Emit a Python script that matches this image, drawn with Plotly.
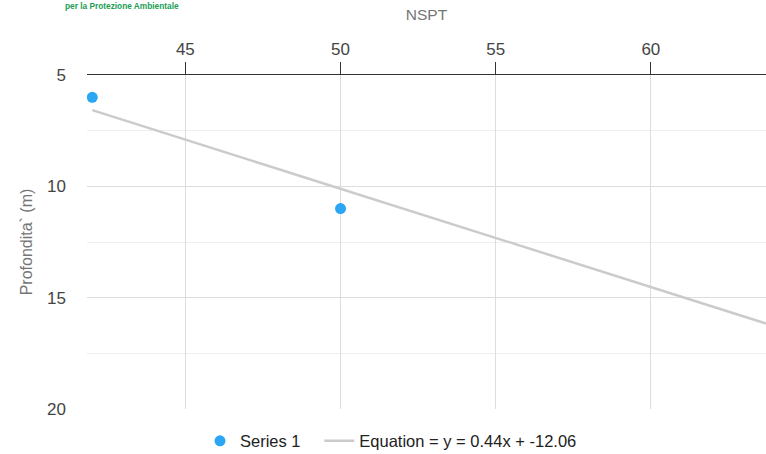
import plotly.graph_objects as go

# data
nspt = [42, 50]
depth = [6.0, 11.0]

# displayed trend line (endpoints)
trend_x = [42, 63.71]
trend_y = [6.58, 16.16]
trend_label = "Equation = y = 0.44x + -12.06"

x_ticks = [45, 50, 55, 60]
y_ticks = [5, 10, 15, 20]
y_minor = [7.5, 12.5, 17.5]

FONT = "Arial, Liberation Sans, sans-serif"
NBSP = "\u00a0"

fig = go.Figure()

fig.add_trace(go.Scatter(
    x=nspt, y=depth, mode="markers", name="Series 1" + NBSP * 3,
    marker={"color": "#2ba6f4", "size": 11},
))
fig.add_trace(go.Scatter(
    x=trend_x, y=trend_y, mode="lines", name=trend_label,
    line={"color": "#cbcbcb", "width": 2.5},
))

fig.update_xaxes(
    side="top",
    automargin=False,
    range=[41.83, 63.71],
    tickvals=x_ticks,
    ticks="outside", ticklen=12, tickcolor="#333333", tickwidth=1,
    showline=True, linecolor="#333333", linewidth=1,
    showgrid=True, gridcolor="#dddddd", gridwidth=1,
    zeroline=False,
    tickfont={"size": 17, "color": "#444444", "family": FONT},
    title={"text": "NSPT", "standoff": 15,
           "font": {"size": 15.5, "color": "#757575", "family": FONT}},
)
fig.update_yaxes(
    automargin=False,
    range=[20, 5],
    tickvals=y_ticks,
    showline=False,
    showgrid=True, gridcolor="#dddddd", gridwidth=1,
    minor={"tickvals": y_minor, "showgrid": True, "gridcolor": "#efefef", "gridwidth": 1},
    zeroline=False,
    ticklabelstandoff=20,
    tickfont={"size": 17, "color": "#444444", "family": FONT},
    title={"text": "Profondita` (m)", "standoff": 10,
           "font": {"size": 16, "color": "#757575", "family": FONT}},
)

# logo caption in the top-left corner
fig.add_annotation(
    text="<b>per la Protezione Ambientale</b>", xref="paper", yref="paper",
    x=(63 - 87) / 679, y=(409 - 6) / 334, xanchor="left", yanchor="middle",
    showarrow=False, font={"size": 8.3, "color": "#1a9d54", "family": FONT},
)

fig.update_layout(
    width=766, height=454,
    margin={"l": 87, "r": 0, "t": 75, "b": 45, "autoexpand": False},
    plot_bgcolor="white", paper_bgcolor="white",
    font={"family": FONT},
    showlegend=True,
    legend={"orientation": "h", "x": (200 - 87) / 679, "xanchor": "left",
            "y": -0.096, "yanchor": "middle",
            "font": {"size": 16.5, "color": "#222222", "family": FONT}},
)

# the page's default body margin would shift the figure by 8px
fig.write_html(
    "out.html",
    config={"displayModeBar": False},
    post_script="document.body.style.margin = '0';",
)
